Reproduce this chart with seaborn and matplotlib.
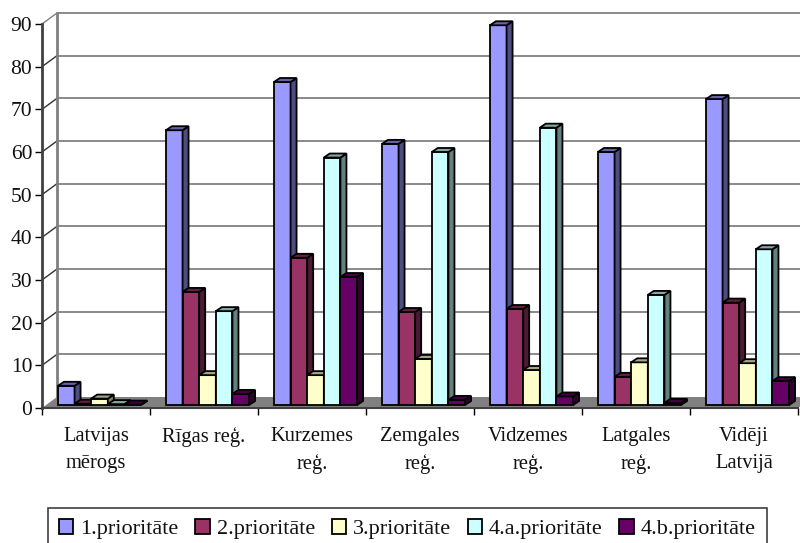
"""Latvian regions by priority, drawn as a pseudo 3D clustered bar chart."""

import pandas as pd
import matplotlib.pyplot as plt
import matplotlib.colors as mcolors
from matplotlib.patches import Polygon
import seaborn as sns


OUTPUT_FILE = "out.png"

categories = ["Latvijas\nmērogs", "Rīgas reģ.", "Kurzemes\nreģ.", "Zemgales\nreģ.",
              "Vidzemes\nreģ.", "Latgales\nreģ.", "Vidēji\nLatvijā"]
series_names = ["1.prioritāte", "2.prioritāte", "3.prioritāte", "4.a.prioritāte", "4.b.prioritāte"]
prio_1 = [4.5, 64.4, 75.7, 61.2, 89.0, 59.3, 71.7]
prio_2 = [0.3, 26.5, 34.5, 21.8, 22.5, 6.6, 24.0]
prio_3 = [1.5, 7.0, 7.0, 10.8, 8.2, 10.0, 9.8]
prio_4a = [0.2, 22.0, 58.0, 59.3, 65.0, 25.8, 36.5]
prio_4b = [0.1, 2.6, 30.0, 1.2, 2.0, 0.5, 5.6]
colors = ["#9999FF", "#993366", "#FFFFCC", "#CCFFFF", "#660066"]
y_ticks = list(range(0, 100, 10))

rows = []
for name, vals in zip(series_names, [prio_1, prio_2, prio_3, prio_4a, prio_4b]):
    for cat, v in zip(categories, vals):
        rows.append({"region": cat, "series": name, "value": v})
df = pd.DataFrame(rows)

sns.set_theme(style="white")
plt.rcParams["font.family"] = ["Liberation Serif", "DejaVu Serif"]

W, H = 800, 543
fig = plt.figure(figsize=(W / 100, H / 100), dpi=100)
ax = fig.add_axes([42 / W, (H - 408) / H, 756 / W, 384 / H])

sns.barplot(data=df, x="region", y="value", hue="series", hue_order=series_names,
            palette=colors, order=categories, width=0.77, gap=0, saturation=1,
            edgecolor="black", linewidth=1.3, errorbar=None, ax=ax, zorder=3)
handles, labels = ax.get_legend_handles_labels()
ax.get_legend().remove()

ax.set_xlim(-0.5, 6.5)
ax.set_ylim(0, 90)
ax.set_xlabel("")
ax.set_ylabel("")

# pixel sizes turned into data units
px_x = 7 / 756
px_y = 90 / 384
wall_dx, wall_dy = 15 * px_x, 11 * px_y

# back wall and floor
for v in y_ticks[1:]:
    ax.plot([-0.5 + wall_dx, 6.5 + wall_dx], [v + wall_dy] * 2, color="#808080",
            lw=1.3, clip_on=False, zorder=1)
    ax.plot([-0.5, -0.5 + wall_dx], [v, v + wall_dy],
            color="#808080" if v == 90 else "#333333", lw=1.0, clip_on=False, zorder=1)
ax.plot([-0.5 + wall_dx] * 2, [wall_dy, 90 + wall_dy], color="#808080", lw=2, clip_on=False, zorder=1)
ax.add_patch(Polygon([(-0.5, 0), (-0.5 + wall_dx, wall_dy), (6.5 + wall_dx, wall_dy), (6.5, 0)],
                     facecolor="#808080", edgecolor="none", clip_on=False, zorder=1.5))

# extrude the seaborn bars, left to right so the next bar hides the side of the last
dx, dy = 6 * px_x, 4 * px_y
shift_x, shift_y = 3.5 * px_x, 3 * px_y
bars = sorted([p for c in ax.containers for p in c], key=lambda p: p.get_x())
for i, bar in enumerate(bars):
    bar.set_x(bar.get_x() + shift_x)
    bar.set_y(shift_y)
    z = 3 + i * 0.01
    bar.set_zorder(z)
    x0, x1 = bar.get_x(), bar.get_x() + bar.get_width()
    y1 = shift_y + bar.get_height()
    rgb = mcolors.to_rgb(bar.get_facecolor())
    side = [c * 0.5 for c in rgb]
    top = [c * 0.65 for c in rgb]
    ax.add_patch(Polygon([(x1, shift_y), (x1 + dx, shift_y + dy), (x1 + dx, y1 + dy), (x1, y1)],
                         facecolor=side, edgecolor="black", lw=1.3, clip_on=False, zorder=z))
    ax.add_patch(Polygon([(x0, y1), (x0 + dx, y1 + dy), (x1 + dx, y1 + dy), (x1, y1)],
                         facecolor=top, edgecolor="black", lw=1.3, clip_on=False, zorder=z))

for side in ("top", "right"):
    ax.spines[side].set_visible(False)
ax.spines["left"].set_linewidth(2)
ax.spines["left"].set_color("#404040")
ax.spines["bottom"].set_linewidth(1.5)
ax.spines["bottom"].set_color("#404040")
ax.spines["left"].set_zorder(5)
ax.spines["bottom"].set_zorder(5)

ax.set_yticks(y_ticks)
ax.tick_params(axis="y", left=True, length=5, width=1, color="black", labelsize=15.5,
               labelcolor="#111111", pad=2)
ax.set_xticks(range(len(categories)))
ax.set_xticklabels(categories, linespacing=1.55)
ax.set_xticks([i - 0.5 for i in range(len(categories) + 1)], minor=True)
ax.tick_params(axis="x", which="major", bottom=False, length=0, labelsize=14.8,
               labelcolor="#111111", pad=14)
ax.tick_params(axis="x", which="minor", bottom=True, length=5, width=1, color="black")

leg = fig.legend(handles, labels, loc="upper left", bbox_to_anchor=(48 / W, (H - 508) / H),
                 ncol=5, fontsize=16, frameon=True, fancybox=False, framealpha=1,
                 edgecolor="#404040", labelcolor="#111111", handlelength=0.64, handleheight=0.64,
                 handletextpad=0.32, columnspacing=0.75, borderpad=0.5, borderaxespad=0)
leg.get_frame().set_linewidth(1.2)

fig.savefig(OUTPUT_FILE, dpi=100)
